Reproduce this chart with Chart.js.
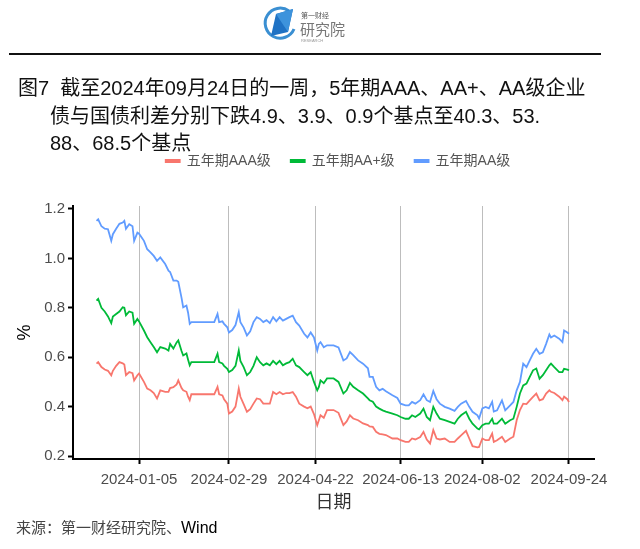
<!DOCTYPE html>
<html>
<head>
<meta charset="utf-8">
<script src="https://cdn.jsdelivr.net/npm/chart.js@4.4.1/dist/chart.umd.min.js"></script>
<style>
  body { margin:0; background:#fff; width:640px; height:549px; overflow:hidden; position:relative;
         font-family:"Liberation Sans","Noto Sans CJK SC",sans-serif; }
  #chart { position:absolute; left:0; top:0; }
  .t { position:absolute; font-size:20px; line-height:20px; color:#111; white-space:nowrap; }
  #rule { position:absolute; left:9px; top:53px; width:592px; height:2px; background:#111; }
  #logo { position:absolute; left:262px; top:5px; }
  #src { position:absolute; left:16px; top:519px; font-size:15px; line-height:18px; color:#444; white-space:nowrap; }
  #src b { font-weight:normal; color:#000; font-size:16px; }
</style>
</head>
<body>
<canvas id="chart" width="640" height="549"></canvas>

<svg id="logo" width="92" height="42" viewBox="0 0 92 42">
  <path d="M27 6 A15 15 0 1 0 32 24" fill="none" stroke="#3a8fd2" stroke-width="3"/>
  <polygon points="9,31 14,9 31,4 26,27" fill="#1f72c4"/>
  <polygon points="14,9 31,4 26,27" fill="#3d93dc"/>
  <text x="39" y="13" font-size="7" fill="#555" font-family="Noto Sans CJK SC">第一财经</text>
  <text x="38" y="30" font-size="15" fill="#777" font-family="Noto Sans CJK SC">研究院</text>
  <text x="39" y="37" font-size="4" fill="#999" font-family="Liberation Sans">RESEARCH</text>
</svg>
<div id="rule"></div>

<div class="t" style="left:18px;top:78px">图7&nbsp;&nbsp;截至2024年09月24日的一周，5年期AAA、AA+、AA级企业</div>
<div class="t" style="left:50px;top:106px">债与国债利差分别下跌4.9、3.9、0.9个基点至40.3、53.</div>
<div class="t" style="left:50px;top:133px">88、68.5个基点</div>

<div id="src">来源：第一财经研究院、<b>Wind</b></div>

<script>
// dates of the readings
const dates = [
  '2023-12-10','2023-12-11','2023-12-13','2023-12-15','2023-12-17','2023-12-19','2023-12-20','2023-12-22',
  '2023-12-24','2023-12-26','2023-12-27','2023-12-28','2023-12-30','2024-01-01','2024-01-02','2024-01-04',
  '2024-01-05','2024-01-08','2024-01-10','2024-01-12','2024-01-14','2024-01-16','2024-01-18','2024-01-21',
  '2024-01-23','2024-01-24','2024-01-26','2024-01-28','2024-01-29','2024-01-31','2024-02-01','2024-02-03',
  '2024-02-04','2024-02-05','2024-02-06','2024-02-11','2024-02-16','2024-02-20','2024-02-22','2024-02-23',
  '2024-02-25','2024-02-26','2024-02-28','2024-02-29','2024-03-02','2024-03-04','2024-03-06','2024-03-07',
  '2024-03-09','2024-03-11','2024-03-13','2024-03-15','2024-03-17','2024-03-19','2024-03-21','2024-03-23',
  '2024-03-25','2024-03-27','2024-03-29','2024-03-31','2024-04-02','2024-04-04','2024-04-06','2024-04-08',
  '2024-04-10','2024-04-12','2024-04-15','2024-04-17','2024-04-19','2024-04-21','2024-04-23','2024-04-24',
  '2024-04-25','2024-04-27','2024-04-29','2024-05-03','2024-05-06','2024-05-09','2024-05-11','2024-05-13',
  '2024-05-15','2024-05-18','2024-05-21','2024-05-24','2024-05-25','2024-05-27','2024-05-29','2024-05-31',
  '2024-06-02','2024-06-04','2024-06-08','2024-06-11','2024-06-13','2024-06-16','2024-06-18','2024-06-20',
  '2024-06-22','2024-06-25','2024-06-27','2024-06-29','2024-07-01','2024-07-03','2024-07-05','2024-07-07',
  '2024-07-10','2024-07-13','2024-07-16','2024-07-18','2024-07-20','2024-07-23','2024-07-25','2024-07-27',
  '2024-07-30','2024-07-31','2024-08-02','2024-08-04','2024-08-06','2024-08-08','2024-08-09','2024-08-11',
  '2024-08-14','2024-08-16','2024-08-19','2024-08-21','2024-08-23','2024-08-25','2024-08-27','2024-08-29',
  '2024-08-31','2024-09-02','2024-09-04','2024-09-06','2024-09-08','2024-09-10','2024-09-12','2024-09-13',
  '2024-09-15','2024-09-18','2024-09-20','2024-09-21','2024-09-23','2024-09-24'
]

const aaa = [
  0.574,0.58,0.56,0.55,0.545,0.527,0.545,0.565,0.58,0.575,0.57,0.527,0.54,0.535,0.506,0.527,
  0.534,0.50,0.473,0.466,0.455,0.433,0.466,0.46,0.46,0.475,0.479,0.49,0.506,0.475,0.466,0.46,
  0.44,0.426,0.45,0.45,0.45,0.45,0.48,0.45,0.445,0.43,0.412,0.372,0.38,0.40,0.473,0.44,
  0.41,0.379,0.39,0.412,0.433,0.43,0.412,0.412,0.412,0.459,0.45,0.459,0.45,0.455,0.455,0.459,
  0.44,0.412,0.40,0.393,0.40,0.37,0.325,0.345,0.365,0.355,0.386,0.386,0.375,0.325,0.34,0.365,
  0.352,0.345,0.332,0.325,0.32,0.318,0.298,0.29,0.288,0.285,0.271,0.271,0.264,0.257,0.257,0.271,
  0.267,0.277,0.298,0.267,0.251,0.305,0.271,0.267,0.271,0.257,0.257,0.271,0.284,0.302,0.271,0.24,
  0.235,0.237,0.271,0.264,0.264,0.291,0.257,0.264,0.278,0.257,0.271,0.278,0.345,0.386,0.412,0.41,
  0.425,0.439,0.453,0.425,0.43,0.453,0.466,0.46,0.455,0.44,0.426,0.44,0.43,0.419
]

const aaPlus = [
  0.829,0.836,0.80,0.785,0.765,0.738,0.765,0.775,0.785,0.802,0.80,0.77,0.785,0.78,0.735,0.755,
  0.745,0.708,0.681,0.661,0.641,0.62,0.641,0.635,0.627,0.654,0.635,0.66,0.668,0.625,0.607,0.615,
  0.59,0.567,0.58,0.58,0.58,0.58,0.614,0.58,0.575,0.565,0.553,0.54,0.548,0.565,0.627,0.585,
  0.56,0.527,0.54,0.565,0.60,0.58,0.567,0.575,0.567,0.585,0.572,0.585,0.567,0.575,0.58,0.594,
  0.567,0.56,0.54,0.527,0.54,0.50,0.466,0.48,0.506,0.495,0.514,0.514,0.50,0.453,0.466,0.496,
  0.48,0.466,0.453,0.433,0.426,0.42,0.40,0.392,0.385,0.38,0.372,0.365,0.358,0.351,0.351,0.365,
  0.358,0.372,0.392,0.358,0.345,0.399,0.372,0.351,0.345,0.338,0.331,0.351,0.365,0.379,0.351,0.331,
  0.311,0.308,0.325,0.331,0.331,0.351,0.331,0.331,0.351,0.331,0.345,0.351,0.399,0.453,0.486,0.493,
  0.52,0.547,0.554,0.513,0.527,0.547,0.567,0.574,0.56,0.54,0.54,0.553,0.55,0.547
]

const aa = [
  1.152,1.158,1.13,1.12,1.118,1.071,1.098,1.12,1.14,1.145,1.152,1.12,1.138,1.13,1.071,1.104,
  1.10,1.071,1.037,1.024,1.01,0.99,1.004,0.977,0.95,0.945,0.91,0.91,0.905,0.84,0.802,0.809,
  0.78,0.735,0.742,0.742,0.742,0.742,0.775,0.742,0.745,0.735,0.721,0.70,0.71,0.73,0.782,0.742,
  0.72,0.688,0.705,0.742,0.762,0.755,0.742,0.75,0.738,0.762,0.745,0.762,0.748,0.755,0.762,0.768,
  0.742,0.728,0.695,0.68,0.70,0.68,0.627,0.654,0.661,0.64,0.648,0.648,0.64,0.587,0.595,0.621,
  0.608,0.587,0.574,0.555,0.52,0.52,0.48,0.466,0.472,0.462,0.446,0.435,0.412,0.405,0.405,0.419,
  0.412,0.426,0.45,0.426,0.419,0.463,0.43,0.412,0.399,0.392,0.383,0.399,0.412,0.423,0.399,0.379,
  0.365,0.352,0.393,0.399,0.393,0.419,0.38,0.385,0.425,0.385,0.405,0.419,0.466,0.50,0.574,0.56,
  0.587,0.614,0.634,0.614,0.62,0.654,0.692,0.68,0.688,0.675,0.661,0.708,0.70,0.695
]

const seriesNames = ['五年期AAA级', '五年期AA+级', '五年期AA级']
const seriesColors = ['#F8766D', '#00BA38', '#619CFF']
const tickDates = ['2024-01-05', '2024-02-29', '2024-04-22', '2024-06-13', '2024-08-02', '2024-09-24']
const yTicks = [0.2, 0.4, 0.6, 0.8, 1.0, 1.2]

const baseDay = Date.parse('2024-01-01')
function dayOf(d) { return Math.round((Date.parse(d) - baseDay) / 864e5) }

function points(vals) {
  return vals.map((v, i) => ({ x: dayOf(dates[i]), y: v }))
}

// extra room under the legend, and shift it right a bit
const legendGap = {
  id: 'legendGap',
  beforeInit(chart) {
    const fit = chart.legend.fit
    chart.legend.fit = function () {
      fit.bind(chart.legend)()
      this.height += 28
    }
  },
  afterLayout(chart) {
    chart.legend.left += 34
    chart.legend.right += 34
  }
}

const ctx = document.getElementById('chart')

new Chart(ctx, {
  type: 'line',
  data: {
    datasets: [aaa, aaPlus, aa].map((vals, i) => ({
      label: seriesNames[i],
      data: points(vals),
      borderColor: seriesColors[i],
      backgroundColor: seriesColors[i],
      borderWidth: 1.8,
      pointRadius: 0,
      tension: 0
    }))
  },
  options: {
    responsive: false,
    animation: false,
    layout: { padding: { top: 134, left: 14, right: 46, bottom: 37 } },
    plugins: {
      legend: {
        position: 'top',
        labels: {
          boxWidth: 14,
          boxHeight: 2,
          padding: 20,
          color: '#555',
          font: { size: 14, family: '"Liberation Sans","Noto Sans CJK SC"' }
        }
      },
      tooltip: { enabled: false }
    },
    scales: {
      x: {
        type: 'linear',
        min: -36.4,
        max: 282.3,
        afterFit(s) { s.height = 53 },
        afterBuildTicks(s) { s.ticks = tickDates.map(d => ({ value: dayOf(d) })) },
        ticks: {
          color: '#4d4d4d',
          padding: 7,
          maxRotation: 0,
          autoSkip: false,
          font: { size: 15, family: '"Liberation Sans"' },
          callback: v => tickDates.find(d => dayOf(d) === v) || ''
        },
        grid: { color: '#bdbdbd', lineWidth: 1, tickColor: '#000', tickWidth: 2, tickLength: 5 },
        border: { color: '#000', width: 2 },
        title: {
          display: true, text: '日期', color: '#333', padding: 0,
          font: { size: 18, family: '"Noto Sans CJK SC"' }
        }
      },
      y: {
        min: 0.188,
        max: 1.212,
        afterFit(s) { s.width = 59 },
        afterBuildTicks(s) { s.ticks = yTicks.map(v => ({ value: v })) },
        ticks: {
          color: '#4d4d4d',
          padding: 3,
          font: { size: 15, family: '"Liberation Sans"' },
          callback: v => v.toFixed(1)
        },
        grid: { drawOnChartArea: false, tickColor: '#000', tickWidth: 2, tickLength: 5 },
        border: { color: '#000', width: 2 },
        title: {
          display: true, text: '%', color: '#000', padding: 0,
          font: { size: 18, family: '"Liberation Sans"' }
        }
      }
    }
  },
  plugins: [legendGap]
})
</script>
</body>
</html>
